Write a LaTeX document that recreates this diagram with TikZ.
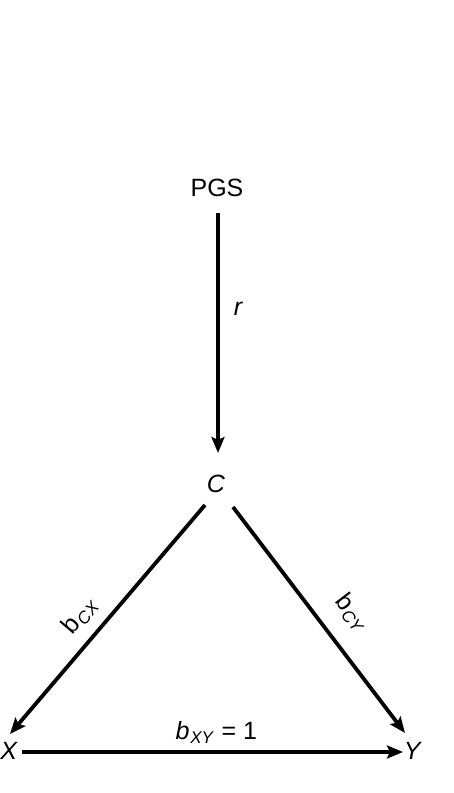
\documentclass[tikz,border=0pt]{standalone}
\usepackage{fontspec}
\setmainfont{Liberation Sans}
\usetikzlibrary{arrows.meta,calc}
\begin{document}
\begin{tikzpicture}[x=1pt,y=-1pt,
  lbl/.style={inner sep=0pt,font=\fontsize{25}{27}\selectfont},
  conn/.style={line width=3.8pt,-{Stealth[length=16pt,width=13pt,inset=3pt]}}]
\newcommand{\mysub}[1]{\kern0.8pt\textsubscript{\fontsize{17}{19}\selectfont\textit{#1}}}
\useasboundingbox (0,0) rectangle (453,793);
\node[lbl] (pgs) at (217,188) {PGS};
\node[lbl] (c) at (216,484) {\textit{C}};
\node[lbl] (x) at (9,751) {\textit{X}};
\node[lbl] (y) at (413,751) {\textit{Y}};
\draw[conn] ($(pgs)+(1,25)$) -- ($(c)+(2,-31)$) node[lbl,pos=0.4,right=14pt] (r) {\textit{r}};
\draw[conn] ($(c)+(-11,21)$) -- ($(x)+(1,-17)$)
  node[lbl,pos=0.55,sloped,above=11pt] (bcx) {b\mysub{CX}};
\draw[conn] ($(c)+(17,23)$) -- ($(y)+(-8,-18)$)
  node[lbl,pos=0.55,sloped,above=18pt] (bcy) {b\mysub{CY}};
\draw[conn] ($(x)+(13,1)$) -- ($(y)+(-10,1)$)
  node[lbl,pos=0.51,above=7pt] (bxy) {\textit{b}\mysub{XY} = 1};
\end{tikzpicture}
\end{document}
